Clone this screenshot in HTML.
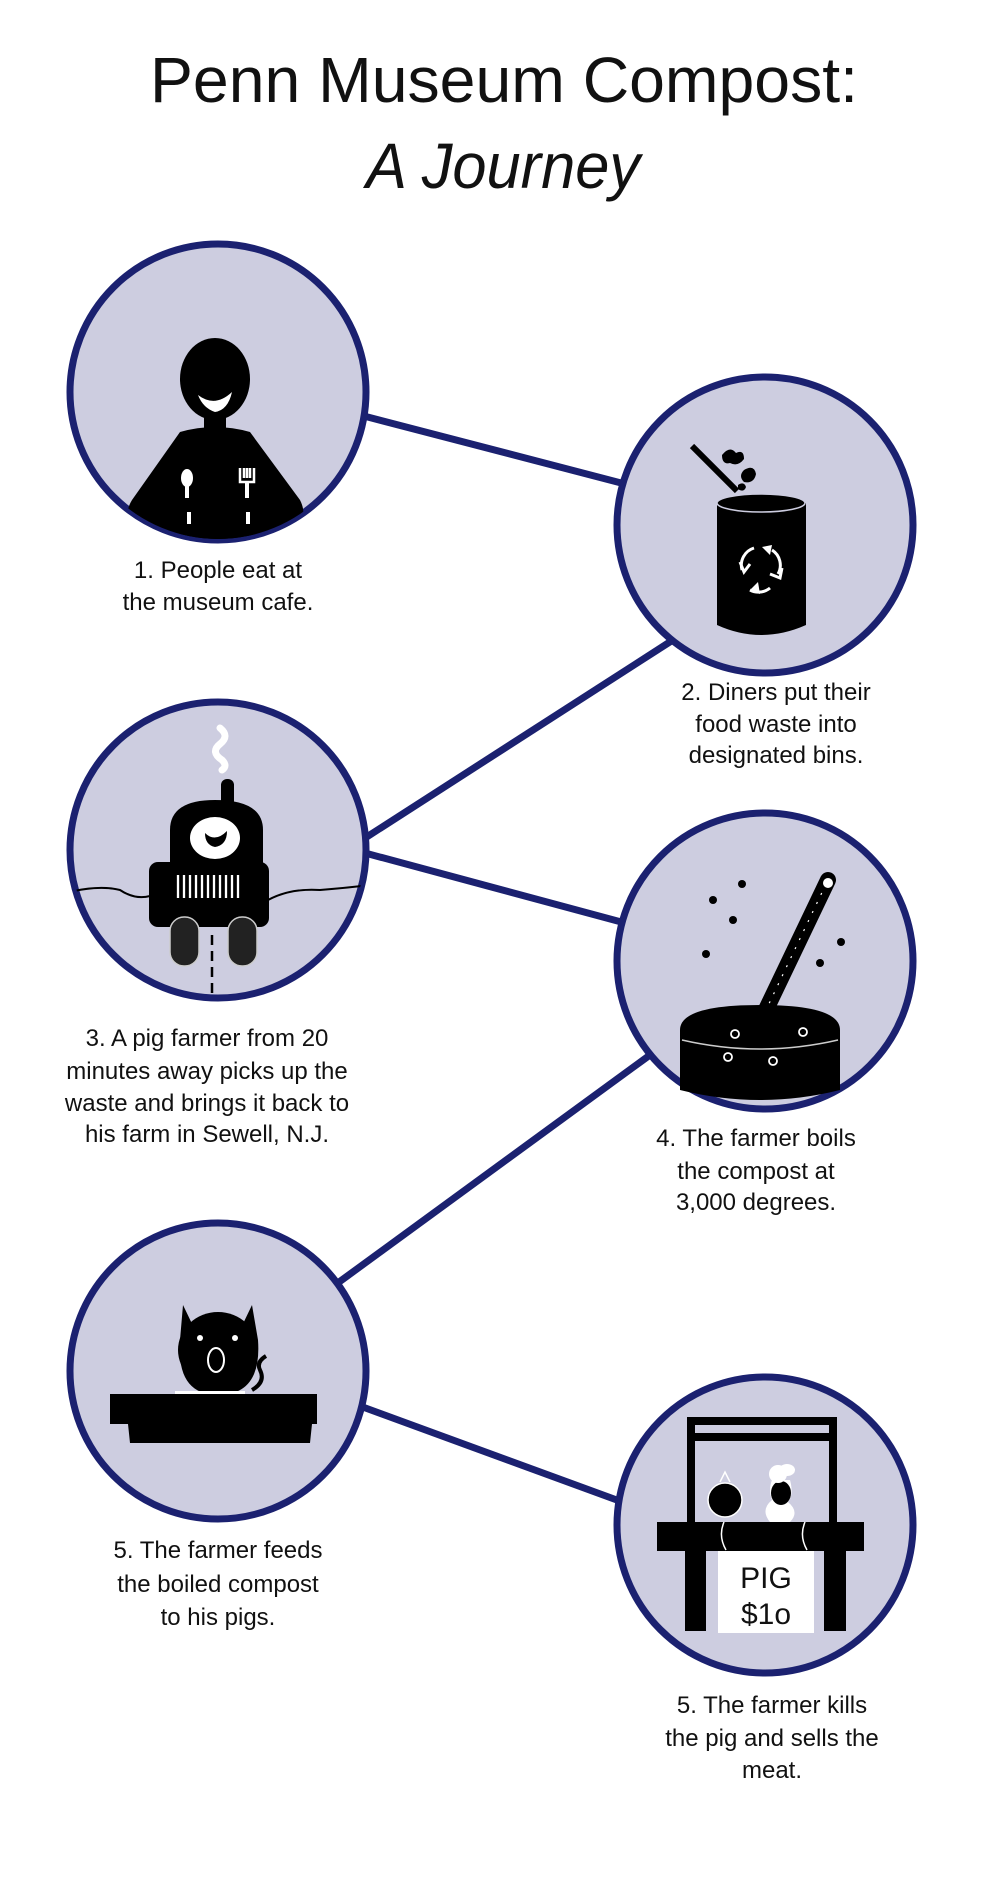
<!DOCTYPE html>
<html><head><meta charset="utf-8"><style>
html,body{margin:0;padding:0;background:#fff;}
body{width:1000px;height:1875px;overflow:hidden;}
svg text{font-family:"Liberation Sans",sans-serif;fill:#111;}
</style></head><body>
<svg width="1000" height="1875" viewBox="0 0 1000 1875" xmlns="http://www.w3.org/2000/svg">
<defs>
<clipPath id="c1"><circle cx="218" cy="392" r="147"/></clipPath>
<clipPath id="c3"><circle cx="218" cy="850" r="147"/></clipPath>
</defs>
<text x="504" y="102" font-size="64" text-anchor="middle" textLength="708" lengthAdjust="spacingAndGlyphs">Penn Museum Compost:</text>
<text x="503" y="188" font-size="64" font-style="italic" text-anchor="middle" textLength="274" lengthAdjust="spacingAndGlyphs">A Journey</text>

<g stroke="#1b2170" stroke-width="7">
<line x1="360" y1="415" x2="625" y2="484"/>
<line x1="676" y1="638" x2="362" y2="840"/>
<line x1="365" y1="853" x2="625" y2="923"/>
<line x1="650" y1="1055" x2="335" y2="1285"/>
<line x1="360" y1="1406" x2="625" y2="1503"/>
</g>
<g fill="#cdcde0" stroke="#1b2170" stroke-width="7">
<circle cx="218" cy="392" r="148"/>
<circle cx="765" cy="525" r="148"/>
<circle cx="218" cy="850" r="148"/>
<circle cx="765" cy="961" r="148"/>
<circle cx="218" cy="1371" r="148"/>
<circle cx="765" cy="1525" r="148"/>
</g>

<!-- icon 1 -->
<g clip-path="url(#c1)">
<ellipse cx="215" cy="379" rx="35" ry="41" fill="#000"/>
<rect x="204" y="415" width="22" height="20" fill="#000"/>
<path d="M180 432 Q215 422 250 432 L300 500 Q310 520 290 530 L260 540 Q215 560 170 540 L140 530 Q120 520 132 500 Z" fill="#000"/>
<ellipse cx="215" cy="545" rx="60" ry="15" fill="#000"/>
<path d="M198 395 Q215 408 232 392 Q228 410 215 412 Q203 408 198 395Z" fill="#fff"/>
<ellipse cx="187" cy="478" rx="6" ry="9" fill="#fff"/><rect x="185" y="484" width="4" height="14" fill="#fff"/>
<path d="M240 468 v14 h14 v-14 M244 468v10 M247 468v10 M250 468v10" stroke="#fff" stroke-width="2.5" fill="none"/><rect x="245" y="482" width="4" height="16" fill="#fff"/>
<rect x="187" y="512" width="4" height="12" fill="#fff"/><rect x="246" y="512" width="4" height="12" fill="#fff"/>
</g>

<!-- icon 2 -->
<line x1="692" y1="446" x2="737" y2="491" stroke="#000" stroke-width="6"/>
<path d="M722 455 q8 -10 14 -2 q8 -4 8 6 q-6 8 -14 4 q-8 2 -8 -8Z M744 470 q10 -6 12 4 q-2 10 -12 8 q-6 -6 0 -12Z M738 485 q6 -4 8 2 q-2 6 -8 2Z" fill="#000"/>
<path d="M717 503 L806 503 L806 625 Q761 645 717 625 Z" fill="#000"/>
<ellipse cx="761" cy="503" rx="44" ry="9" fill="#000" stroke="#cdcde0" stroke-width="1.5"/>
<path d="M754 548 a18 18 0 0 0 -12 22 M740 562 l4 10 l6 -8 M772 550 a18 18 0 0 1 6 24 M770 574 l10 4 l2 -10 M750 590 a18 18 0 0 0 20 -2" stroke="#fff" stroke-width="3" fill="none"/>
<path d="M758 582 l-8 8 l10 4Z M772 545 l-10 2 l8 8Z" fill="#fff"/>

<!-- icon 3 -->
<g clip-path="url(#c3)">
<path d="M69 892 Q100 885 120 890 Q135 900 150 896 M268 900 Q290 888 320 890 Q345 888 370 885" stroke="#000" stroke-width="2" fill="none"/>
<line x1="212" y1="935" x2="212" y2="1000" stroke="#000" stroke-width="2.5" stroke-dasharray="10 6"/>
</g>
<path d="M220 728 q10 8 0 16 q-10 8 2 16 q6 6 0 10" stroke="#fff" stroke-width="7" fill="none" stroke-linecap="round"/>
<rect x="221" y="779" width="13" height="28" rx="6" fill="#000"/>
<path d="M170 865 L170 830 Q170 800 215 800 Q263 800 263 830 L263 865Z" fill="#000"/>
<ellipse cx="215" cy="838" rx="25" ry="21" fill="#fff"/>
<path d="M205 833 q10 10 22 -2 q0 14 -12 16 q-10 -2 -10 -14Z" fill="#000"/>
<rect x="149" y="862" width="120" height="65" rx="9" fill="#000"/>
<g stroke="#fff" stroke-width="2.3"><line x1="178" y1="875" x2="178" y2="898"/><line x1="184" y1="875" x2="184" y2="898"/><line x1="190" y1="875" x2="190" y2="898"/><line x1="196" y1="875" x2="196" y2="898"/><line x1="202" y1="875" x2="202" y2="898"/><line x1="208" y1="875" x2="208" y2="898"/><line x1="214" y1="875" x2="214" y2="898"/><line x1="220" y1="875" x2="220" y2="898"/><line x1="226" y1="875" x2="226" y2="898"/><line x1="232" y1="875" x2="232" y2="898"/><line x1="238" y1="875" x2="238" y2="898"/></g>
<rect x="170" y="917" width="29" height="49" rx="14" fill="#222" stroke="#ccc" stroke-width="1.5"/>
<rect x="228" y="917" width="29" height="49" rx="14" fill="#222" stroke="#ccc" stroke-width="1.5"/>

<!-- icon 4 -->
<path d="M680 1030 Q680 1005 760 1005 Q840 1005 840 1030 L840 1090 Q760 1110 680 1090Z" fill="#000"/>
<path d="M682 1040 Q760 1058 838 1040" stroke="#ccc" stroke-width="1.5" fill="none"/>
<line x1="828" y1="880" x2="762" y2="1018" stroke="#000" stroke-width="16" stroke-linecap="round"/>
<line x1="826" y1="884" x2="766" y2="1010" stroke="#fff" stroke-width="1.2" stroke-dasharray="2 8"/>
<circle cx="828" cy="883" r="5" fill="#fff"/>
<g fill="none" stroke="#fff" stroke-width="1.8"><circle cx="735" cy="1034" r="4"/><circle cx="728" cy="1057" r="4"/><circle cx="773" cy="1061" r="4"/><circle cx="803" cy="1032" r="4"/></g>
<g fill="#000"><circle cx="742" cy="884" r="4"/><circle cx="713" cy="900" r="4"/><circle cx="733" cy="920" r="4"/><circle cx="706" cy="954" r="4"/><circle cx="841" cy="942" r="4"/><circle cx="820" cy="963" r="4"/></g>

<!-- icon 5 -->
<path d="M183 1305 L195 1330 L240 1330 L252 1305 L258 1340 Q262 1395 218 1395 Q176 1395 180 1340Z" fill="#000"/>
<ellipse cx="218" cy="1350" rx="40" ry="38" fill="#000"/>
<circle cx="200" cy="1338" r="3" fill="#fff"/><circle cx="235" cy="1338" r="3" fill="#fff"/>
<ellipse cx="216" cy="1360" rx="8" ry="12" fill="none" stroke="#fff" stroke-width="2"/>
<path d="M252 1390 q14 -8 8 -20 q-4 -8 6 -14" stroke="#000" stroke-width="4" fill="none"/>
<rect x="175" y="1391" width="70" height="3" fill="#fff"/>
<path d="M110 1394 L317 1394 L317 1424 L312 1424 L310 1443 L130 1443 L128 1424 L110 1424Z" fill="#000"/>

<!-- icon 6 -->
<path d="M687 1417 H837 V1522 H829 V1441 H695 V1522 H687Z" fill="#000"/>
<rect x="695" y="1425" width="134" height="8" fill="#cdcde0"/>
<circle cx="725" cy="1500" r="17" fill="#000" stroke="#fff" stroke-width="1.5"/>
<path d="M720 1482 l5 -10 l5 10" stroke="#fff" stroke-width="1.5" fill="none"/>
<path d="M770 1522 Q760 1510 772 1500 Q768 1490 772 1480 L790 1480 Q794 1495 788 1502 Q800 1512 790 1522Z" fill="#fff"/>
<ellipse cx="781" cy="1493" rx="10" ry="12" fill="#000"/>
<circle cx="778" cy="1474" r="9" fill="#fff"/><ellipse cx="787" cy="1470" rx="8" ry="6" fill="#fff"/>
<rect x="657" y="1522" width="207" height="29" fill="#000"/>
<path d="M724 1522 q-6 14 2 28 M805 1522 q-6 14 2 28" stroke="#fff" stroke-width="1.5" fill="none"/>
<rect x="685" y="1551" width="21" height="80" fill="#000"/>
<rect x="824" y="1551" width="22" height="80" fill="#000"/>
<rect x="718" y="1551" width="96" height="82" fill="#fff"/>
<text x="766" y="1588" font-size="30" text-anchor="middle" font-family="Liberation Mono,monospace">PIG</text>
<text x="766" y="1624" font-size="30" text-anchor="middle" font-family="Liberation Mono,monospace">$1o</text>

<!-- labels -->
<g font-size="24" text-anchor="middle">
<text x="218" y="578">1. People eat at</text>
<text x="218" y="610">the museum cafe.</text>
<text x="776" y="700">2. Diners put their</text>
<text x="776" y="732">food waste into</text>
<text x="776" y="763">designated bins.</text>
<text x="207" y="1046">3. A pig farmer from 20</text>
<text x="207" y="1079">minutes away picks up the</text>
<text x="207" y="1111">waste and brings it back to</text>
<text x="207" y="1142">his farm in Sewell, N.J.</text>
<text x="756" y="1146">4. The farmer boils</text>
<text x="756" y="1179">the compost at</text>
<text x="756" y="1210">3,000 degrees.</text>
<text x="218" y="1558">5. The farmer feeds</text>
<text x="218" y="1592">the boiled compost</text>
<text x="218" y="1625">to his pigs.</text>
<text x="772" y="1713">5. The farmer kills</text>
<text x="772" y="1746">the pig and sells the</text>
<text x="772" y="1778">meat.</text>
</g>
</svg>
</body></html>
